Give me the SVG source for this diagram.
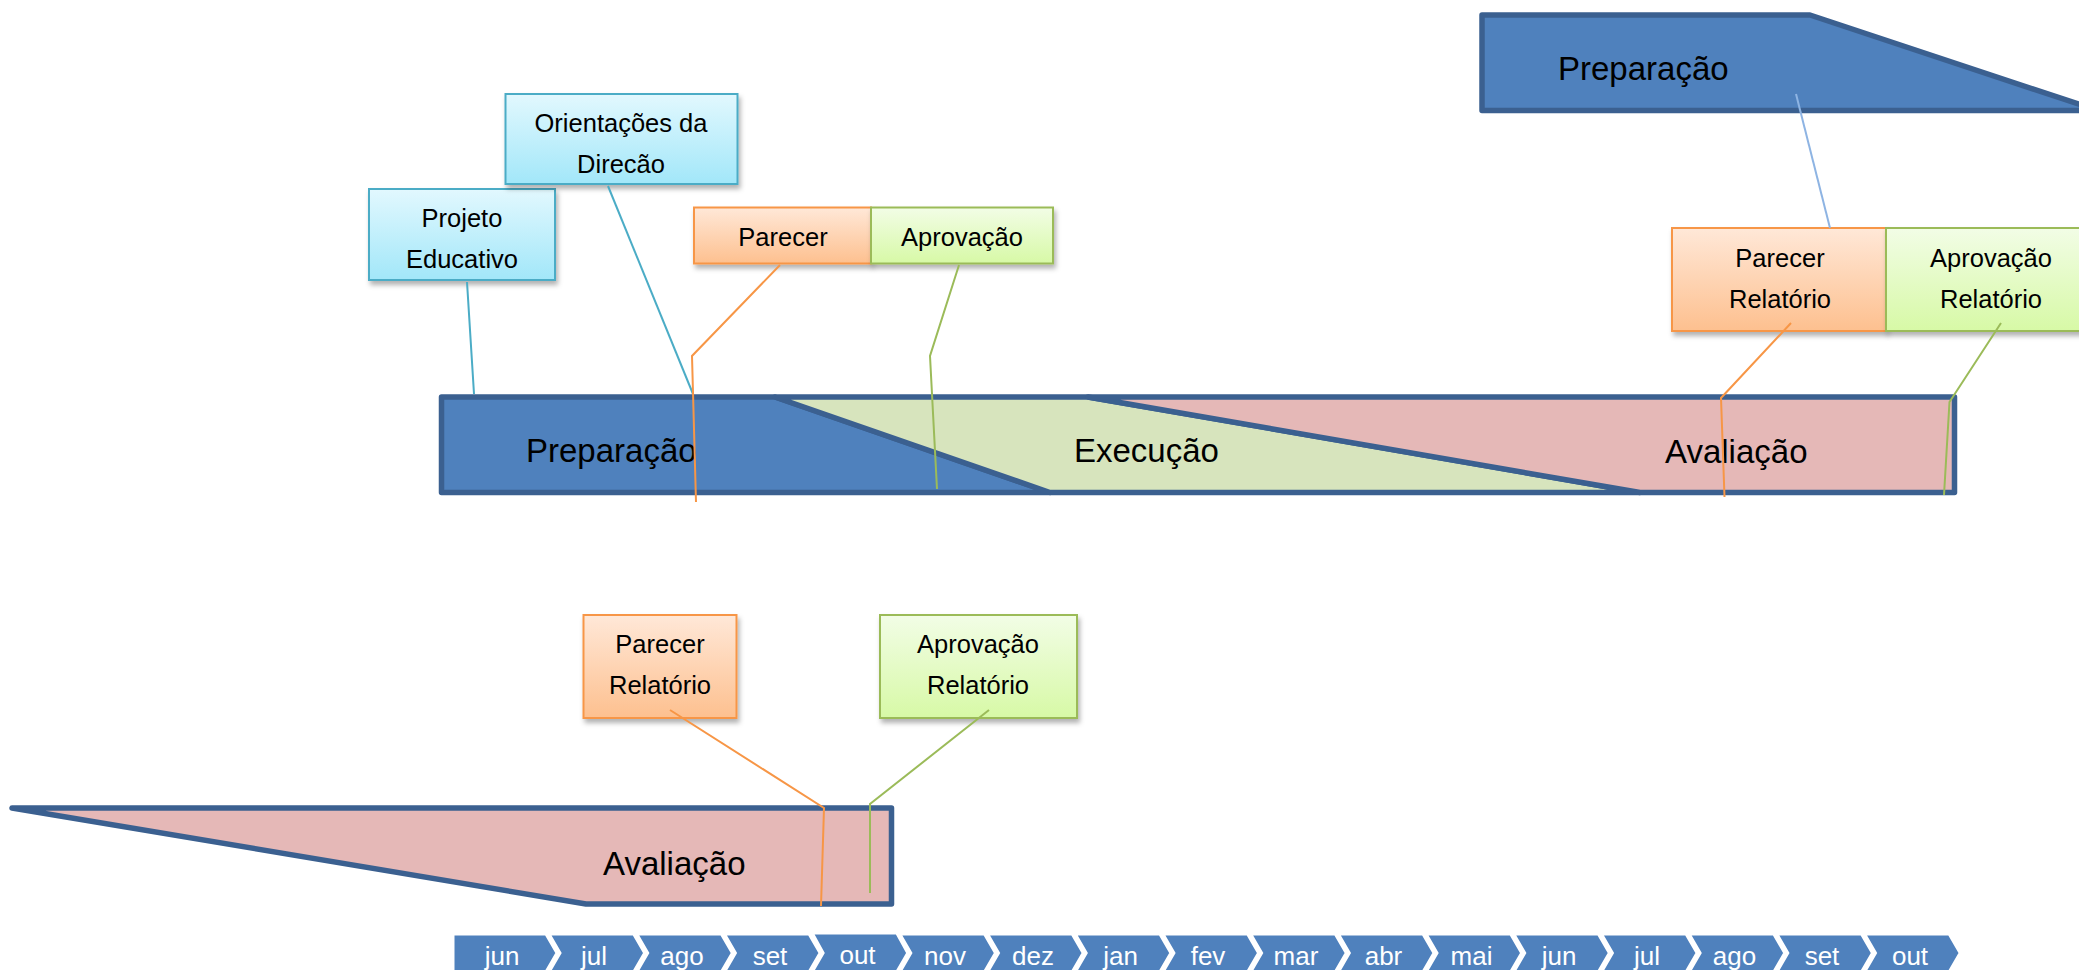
<svg xmlns="http://www.w3.org/2000/svg" width="2079" height="970" viewBox="0 0 2079 970">
<defs>
<linearGradient id="gCyan" x1="0" y1="0" x2="0" y2="1"><stop offset="0" stop-color="#E2F8FE"/><stop offset="1" stop-color="#A2E7F9"/></linearGradient>
<linearGradient id="gOrange" x1="0" y1="0" x2="0" y2="1"><stop offset="0" stop-color="#FFE8D8"/><stop offset="1" stop-color="#FDC08F"/></linearGradient>
<linearGradient id="gGreen" x1="0" y1="0" x2="0" y2="1"><stop offset="0" stop-color="#F2FDE6"/><stop offset="1" stop-color="#D7F9A6"/></linearGradient>
<filter id="shadow" x="-10%" y="-10%" width="130%" height="140%"><feDropShadow dx="2" dy="4" stdDeviation="2.5" flood-color="#000" flood-opacity="0.3"/></filter>
</defs>
<style>
.phase{stroke:#3B6090;stroke-width:5.5;stroke-linejoin:round}
.blue{fill:#4F81BD}.lgreen{fill:#D7E4BD}.pink{fill:#E5B8B7}
.big{font-family:"Liberation Sans",Arial,sans-serif;font-size:33px;fill:#000}
.lbl{font-family:"Liberation Sans",Arial,sans-serif;font-size:25.5px;fill:#000;text-anchor:middle}
.box{stroke-width:2;filter:url(#shadow)}
.cyan{fill:url(#gCyan);stroke:#4BACC6}
.orange{fill:url(#gOrange);stroke:#F79646}
.green{fill:url(#gGreen);stroke:#9BBB59}
.chev{fill:#4F81BD;stroke:#fff;stroke-width:3;stroke-linejoin:miter}
.mon{font-family:"Liberation Sans",Arial,sans-serif;font-size:26px;fill:#fff;text-anchor:middle}
.cn{fill:none;stroke-width:2}
.c-cyan{stroke:#4BACC6}.c-orange{stroke:#F79646}.c-green{stroke:#9BBB59}.c-blue{stroke:#8EB4E3}
</style>

<g id="prep-top">
<polygon class="phase blue" points="1482,15 1810,15 2098,110.5 1482,110.5"/>
<text class="big" x="1558" y="80">Preparação</text>
</g>

<g id="main-bar">
<g id="prep-main">
<polygon class="phase blue" points="441.5,397 775,397 1050,492.5 441.5,492.5"/>
<text class="big" x="526" y="462">Preparação</text>
</g>
<g id="exec-main">
<polygon class="phase lgreen" points="775,397 1088,397 1640,492.5 1050,492.5"/>
<text class="big" x="1074" y="462">Execução</text>
</g>
<g id="aval-main">
<polygon class="phase pink" points="1088,397 1954.5,397 1954.5,492.5 1640,492.5"/>
<text class="big" x="1665" y="463">Avaliação</text>
</g>
</g>

<g id="aval-bottom">
<polygon class="phase pink" points="12,808 891.5,808 891.5,904 586,904"/>
<text class="big" x="603" y="875">Avaliação</text>
</g>

<g id="projeto-educativo">
<rect class="box cyan" x="369" y="189" width="186" height="91"/>
<text class="lbl" x="462" y="227">Projeto</text>
<text class="lbl" x="462" y="268">Educativo</text>
</g>
<g id="orientacoes">
<rect class="box cyan" x="505.5" y="94" width="232" height="90"/>
<text class="lbl" x="621" y="132">Orientações da</text>
<text class="lbl" x="621" y="173">Direcão</text>
</g>
<g id="parecer">
<rect class="box orange" x="694" y="207.5" width="177" height="56"/>
<text class="lbl" x="783" y="246">Parecer</text>
</g>
<g id="aprovacao">
<rect class="box green" x="871" y="207.5" width="182" height="56"/>
<text class="lbl" x="962" y="246">Aprovação</text>
</g>
<g id="parecer-relatorio-right">
<rect class="box orange" x="1672" y="228" width="214" height="103"/>
<text class="lbl" x="1780" y="267">Parecer</text>
<text class="lbl" x="1780" y="308">Relatório</text>
</g>
<g id="aprovacao-relatorio-right">
<rect class="box green" x="1886" y="228" width="214" height="103"/>
<text class="lbl" x="1991" y="267">Aprovação</text>
<text class="lbl" x="1991" y="308">Relatório</text>
</g>
<g id="parecer-relatorio-bottom">
<rect class="box orange" x="583.5" y="615" width="153" height="103"/>
<text class="lbl" x="660" y="653">Parecer</text>
<text class="lbl" x="660" y="694">Relatório</text>
</g>
<g id="aprovacao-relatorio-bottom">
<rect class="box green" x="880" y="615" width="197" height="103"/>
<text class="lbl" x="978" y="653">Aprovação</text>
<text class="lbl" x="978" y="694">Relatório</text>
</g>

<g id="timeline">
<g id="m01"><path class="chev" d="M453,934 H546 L557,953 L546,972 H453 Z"/><text class="mon" x="502" y="965">jun</text></g>
<g id="m02"><path class="chev" d="M549,934 H633.7 L644.7,953 L633.7,972 H549 L560,953 Z"/><text class="mon" x="594" y="965">jul</text></g>
<g id="m03"><path class="chev" d="M636.7,934 H721.4 L732.4,953 L721.4,972 H636.7 L647.7,953 Z"/><text class="mon" x="682" y="965">ago</text></g>
<g id="m04"><path class="chev" d="M724.4,934 H809.1 L820.1,953 L809.1,972 H724.4 L735.4,953 Z"/><text class="mon" x="770" y="965">set</text></g>
<g id="m05"><path class="chev" d="M812.1,933 H896.8 L907.8,953 L896.8,972 H812.1 L823.1,953 Z"/><text class="mon" x="857.5" y="964">out</text></g>
<g id="m06"><path class="chev" d="M899.8,934 H984.5 L995.5,953 L984.5,972 H899.8 L910.8,953 Z"/><text class="mon" x="945" y="965">nov</text></g>
<g id="m07"><path class="chev" d="M987.5,934 H1072.2 L1083.2,953 L1072.2,972 H987.5 L998.5,953 Z"/><text class="mon" x="1033" y="965">dez</text></g>
<g id="m08"><path class="chev" d="M1075.2,934 H1159.9 L1170.9,953 L1159.9,972 H1075.2 L1086.2,953 Z"/><text class="mon" x="1120.5" y="965">jan</text></g>
<g id="m09"><path class="chev" d="M1162.9,934 H1247.6 L1258.6,953 L1247.6,972 H1162.9 L1173.9,953 Z"/><text class="mon" x="1208" y="965">fev</text></g>
<g id="m10"><path class="chev" d="M1250.6,934 H1335.3 L1346.3,953 L1335.3,972 H1250.6 L1261.6,953 Z"/><text class="mon" x="1296" y="965">mar</text></g>
<g id="m11"><path class="chev" d="M1338.3,934 H1423 L1434,953 L1423,972 H1338.3 L1349.3,953 Z"/><text class="mon" x="1383.5" y="965">abr</text></g>
<g id="m12"><path class="chev" d="M1426,934 H1510.7 L1521.7,953 L1510.7,972 H1426 L1437,953 Z"/><text class="mon" x="1471.5" y="965">mai</text></g>
<g id="m13"><path class="chev" d="M1513.7,934 H1598.4 L1609.4,953 L1598.4,972 H1513.7 L1524.7,953 Z"/><text class="mon" x="1559" y="965">jun</text></g>
<g id="m14"><path class="chev" d="M1601.4,934 H1686.1 L1697.1,953 L1686.1,972 H1601.4 L1612.4,953 Z"/><text class="mon" x="1647" y="965">jul</text></g>
<g id="m15"><path class="chev" d="M1689.1,934 H1773.8 L1784.8,953 L1773.8,972 H1689.1 L1700.1,953 Z"/><text class="mon" x="1734.5" y="965">ago</text></g>
<g id="m16"><path class="chev" d="M1776.8,934 H1861.5 L1872.5,953 L1861.5,972 H1776.8 L1787.8,953 Z"/><text class="mon" x="1822" y="965">set</text></g>
<g id="m17"><path class="chev" d="M1864.5,934 H1949.2 L1960.2,953 L1949.2,972 H1864.5 L1875.5,953 Z"/><text class="mon" x="1910" y="965">out</text></g>
</g>

<g id="connectors">
<polyline class="cn c-cyan" points="467,282 474,394"/>
<polyline class="cn c-cyan" points="608,186 693,394"/>
<polyline class="cn c-orange" points="780,265 692,356 696,502"/>
<polyline class="cn c-green" points="959,265 930,356 937,489"/>
<polyline class="cn c-blue" points="1796,94 1830,228"/>
<polyline class="cn c-orange" points="1791,323 1721,398 1724.5,497"/>
<polyline class="cn c-green" points="2001,323 1949.5,402 1944,495"/>
<polyline class="cn c-orange" points="670,710 824,808 821,906"/>
<polyline class="cn c-green" points="989,710 870,804 870,893"/>
</g>
</svg>
